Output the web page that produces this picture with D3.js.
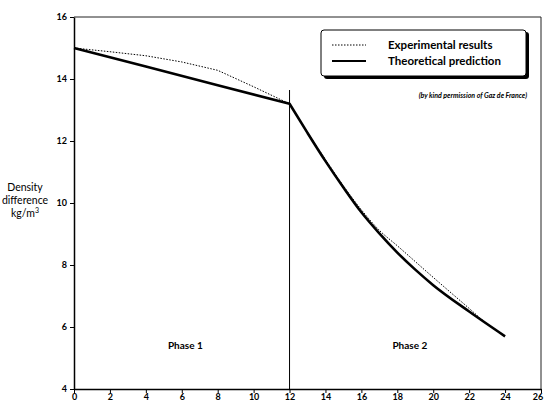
<!DOCTYPE html>
<meta charset="utf-8">
<script src="https://d3js.org/d3.v7.min.js"></script>
<style>
  body { margin: 0; background: #fff; }
  text { font-family: Lato, "Open Sans", sans-serif; fill: #000; }
</style>
<div id="chart"></div>
<script>
  // time axis and density values
  var xTicks = [0, 2, 4, 6, 8, 10, 12, 14, 16, 18, 20, 22, 24, 26];
  var yTicks = [4, 6, 8, 10, 12, 14, 16];

  var expX = [0, 2, 4, 6, 8, 10, 12, 13, 14, 15, 16, 17, 18, 20, 22, 23, 24];
  var expY = [15, 14.88, 14.75, 14.55, 14.28, 13.75, 13.2, 12.28, 11.4, 10.55, 9.78, 9.12, 8.62, 7.6, 6.6, 6.1, 5.7];

  var theoX = [0, 4, 8, 12, 13, 14, 15, 16, 17, 18, 19, 20, 22, 24];
  var theoY = [15, 14.4, 13.8, 13.2, 12.26, 11.35, 10.5, 9.7, 9.02, 8.4, 7.85, 7.35, 6.5, 5.7];

  var phaseBoundary = 12;
  var phaseLabels = [["Phase 1", 6.2], ["Phase 2", 18.7]];
  var legendLabels = ["Experimental results", "Theoretical prediction"];

  var W = 544, H = 403;
  var svg = d3.select("#chart").append("svg")
      .attr("width", W)
      .attr("height", H);

  var x = d3.scaleLinear().domain([0, 26]).range([74, 541]);
  var y = d3.scaleLinear().domain([4, 16]).range([389, 17]);

  // frame top and right (thin)
  svg.append("path")
    .attr("d", "M" + x(0) + "," + y(16) + "H" + x(26) + "V" + y(4))
    .attr("fill", "none")
    .attr("stroke", "#222")
    .attr("stroke-width", 1);

  // axes
  var xAxis = svg.append("g")
    .attr("transform", "translate(0," + y(4) + ")")
    .call(d3.axisBottom(x).tickValues(xTicks).tickSize(4).tickPadding(1).tickSizeOuter(0));
  var yAxis = svg.append("g")
    .attr("transform", "translate(" + x(0) + ",0)")
    .call(d3.axisLeft(y).tickValues(yTicks).tickSize(4).tickSizeOuter(0));

  [xAxis, yAxis].forEach(function(a) {
    a.select(".domain").attr("stroke", "#000").attr("stroke-width", 1.5);
    a.selectAll(".tick line").attr("stroke", "#000");
    a.selectAll("text")
      .style("font-family", "Lato, sans-serif")
      .style("font-size", "9px")
      .style("font-weight", "bold");
  });
  xAxis.selectAll("text").attr("dy", "0.62em");
  // last label sits at the window edge, pull it in a little
  xAxis.selectAll("text").filter(function(d) { return d === 26; }).attr("dx", -3.5);

  // phase divider
  svg.append("line")
    .attr("x1", x(phaseBoundary)).attr("x2", x(phaseBoundary))
    .attr("y1", 90).attr("y2", y(4))
    .attr("stroke", "#000")
    .attr("stroke-width", 1);

  var straight = d3.line()
    .x(function(d) { return x(d[0]); })
    .y(function(d) { return y(d[1]); });
  var smooth = d3.line()
    .x(function(d) { return x(d[0]); })
    .y(function(d) { return y(d[1]); })
    .curve(d3.curveMonotoneX);

  var expData = expX.map(function(v, i) { return [v, expY[i]]; });
  var theoData = theoX.map(function(v, i) { return [v, theoY[i]]; });

  svg.append("path")
    .attr("d", straight(expData.filter(function(d) { return d[0] <= phaseBoundary; })) +
               smooth(expData.filter(function(d) { return d[0] >= phaseBoundary; })).replace(/^M/, "L"))
    .attr("fill", "none")
    .attr("stroke", "#000")
    .attr("stroke-width", 1)
    .attr("stroke-dasharray", "1.5,1.5");

  svg.append("path")
    .attr("d", straight(theoData.filter(function(d) { return d[0] <= phaseBoundary; })) +
               smooth(theoData.filter(function(d) { return d[0] >= phaseBoundary; })).replace(/^M/, "L"))
    .attr("fill", "none")
    .attr("stroke", "#000")
    .attr("stroke-width", 2.6)
    .attr("stroke-linejoin", "round");

  // phase labels
  svg.selectAll(".phase")
    .data(phaseLabels)
    .enter().append("text")
    .attr("class", "phase")
    .attr("x", function(d) { return x(d[1]); })
    .attr("y", 349)
    .attr("text-anchor", "middle")
    .style("font-size", "10px")
    .style("font-weight", "bold")
    .text(function(d) { return d[0]; });

  // y axis title
  var yTitle = svg.append("text")
    .attr("text-anchor", "middle")
    .style("font-size", "10.5px");
  ["Density", "difference"].forEach(function(t, i) {
    yTitle.append("tspan").attr("x", 25).attr("y", 191 + i * 13).text(t);
  });
  var kg = yTitle.append("tspan").attr("x", 25).attr("y", 217).text("kg/m");
  kg.append("tspan").attr("dy", -4).style("font-size", "7px").text("3");

  // legend box with shadow
  var lg = svg.append("g");
  lg.append("rect")
    .attr("x", 324).attr("y", 32).attr("width", 205).attr("height", 47)
    .attr("rx", 3)
    .attr("fill", "#000");
  lg.append("rect")
    .attr("x", 321).attr("y", 30).attr("width", 205).attr("height", 46)
    .attr("rx", 3)
    .attr("fill", "#fff")
    .attr("stroke", "#000")
    .attr("stroke-width", 1);

  lg.append("line")
    .attr("x1", 332).attr("x2", 366).attr("y1", 45).attr("y2", 45)
    .attr("stroke", "#000").attr("stroke-width", 1).attr("stroke-dasharray", "1.5,1.5");
  lg.append("line")
    .attr("x1", 332).attr("x2", 366).attr("y1", 61).attr("y2", 61)
    .attr("stroke", "#000").attr("stroke-width", 2);

  lg.selectAll(".lt")
    .data(legendLabels)
    .enter().append("text")
    .attr("x", 388)
    .attr("y", function(d, i) { return 49 + i * 16; })
    .style("font-size", "11.5px")
    .style("font-weight", "bold")
    .text(function(d) { return d; });

  svg.append("text")
    .attr("x", 527)
    .attr("y", 98)
    .attr("text-anchor", "end")
    .style("font-size", "7px")
    .style("font-style", "italic")
    .style("font-weight", "bold")
    .text("(by kind permission of Gaz de France)");
</script>
